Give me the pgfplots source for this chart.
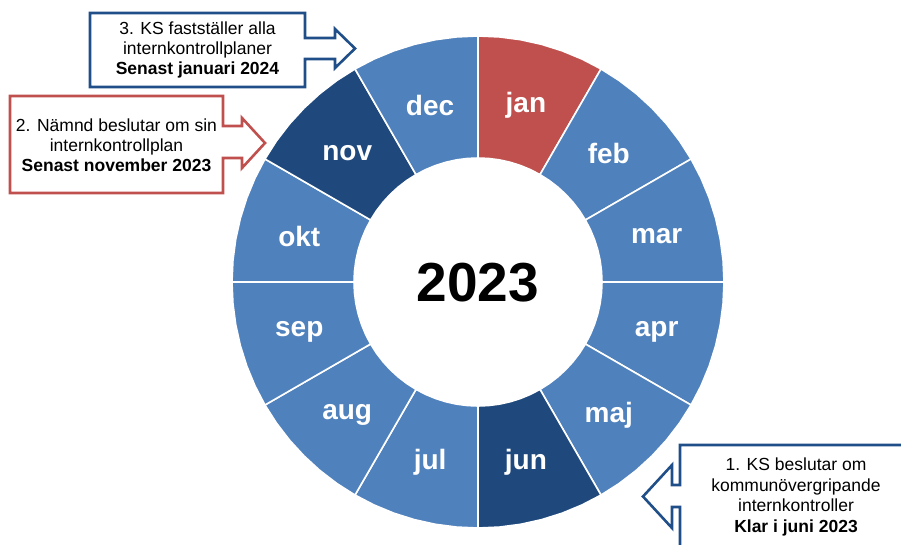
\documentclass[border=0pt]{standalone}
\usepackage{pgfplots}
\pgfplotsset{compat=1.18}
\usepgfplotslibrary{polar}
\usepackage{fontspec}
\setmainfont{Liberation Sans}
\definecolor{segblue}{HTML}{4F81BD}
\definecolor{segnavy}{HTML}{1F497D}
\definecolor{segred}{HTML}{C0504D}
\definecolor{boxblue}{HTML}{1F4E88}
\tikzset{month/.style={font=\fontsize{28}{30}\selectfont\bfseries, text=white, yshift=-2pt}}
\begin{document}
\begin{tikzpicture}
\path[use as bounding box] (0pt,0pt) rectangle (901pt,544pt);
\begin{polaraxis}[
  at={(478pt,262pt)}, anchor=center,
  scale only axis, width=492pt, height=492pt,
  xmin=0, xmax=360, ymin=0, ymax=246,
  hide axis, clip=false,
  every axis plot/.append style={draw=white, line width=1.6pt, line join=round},
]
% jan
\addplot[fill=segred] coordinates {(90,246)(85,246)(80,246)(75,246)(70,246)(65,246)(60,246)(60,124)(65,124)(70,124)(75,124)(80,124)(85,124)(90,124)} -- cycle;
% feb
\addplot[fill=segblue] coordinates {(60,246)(55,246)(50,246)(45,246)(40,246)(35,246)(30,246)(30,124)(35,124)(40,124)(45,124)(50,124)(55,124)(60,124)} -- cycle;
% mar
\addplot[fill=segblue] coordinates {(30,246)(25,246)(20,246)(15,246)(10,246)(5,246)(0,246)(0,124)(5,124)(10,124)(15,124)(20,124)(25,124)(30,124)} -- cycle;
% apr
\addplot[fill=segblue] coordinates {(0,246)(-5,246)(-10,246)(-15,246)(-20,246)(-25,246)(-30,246)(-30,124)(-25,124)(-20,124)(-15,124)(-10,124)(-5,124)(0,124)} -- cycle;
% maj
\addplot[fill=segblue] coordinates {(-30,246)(-35,246)(-40,246)(-45,246)(-50,246)(-55,246)(-60,246)(-60,124)(-55,124)(-50,124)(-45,124)(-40,124)(-35,124)(-30,124)} -- cycle;
% jun
\addplot[fill=segnavy] coordinates {(-60,246)(-65,246)(-70,246)(-75,246)(-80,246)(-85,246)(-90,246)(-90,124)(-85,124)(-80,124)(-75,124)(-70,124)(-65,124)(-60,124)} -- cycle;
% jul
\addplot[fill=segblue] coordinates {(-90,246)(-95,246)(-100,246)(-105,246)(-110,246)(-115,246)(-120,246)(-120,124)(-115,124)(-110,124)(-105,124)(-100,124)(-95,124)(-90,124)} -- cycle;
% aug
\addplot[fill=segblue] coordinates {(-120,246)(-125,246)(-130,246)(-135,246)(-140,246)(-145,246)(-150,246)(-150,124)(-145,124)(-140,124)(-135,124)(-130,124)(-125,124)(-120,124)} -- cycle;
% sep
\addplot[fill=segblue] coordinates {(-150,246)(-155,246)(-160,246)(-165,246)(-170,246)(-175,246)(-180,246)(-180,124)(-175,124)(-170,124)(-165,124)(-160,124)(-155,124)(-150,124)} -- cycle;
% okt
\addplot[fill=segblue] coordinates {(180,246)(175,246)(170,246)(165,246)(160,246)(155,246)(150,246)(150,124)(155,124)(160,124)(165,124)(170,124)(175,124)(180,124)} -- cycle;
% nov
\addplot[fill=segnavy] coordinates {(150,246)(145,246)(140,246)(135,246)(130,246)(125,246)(120,246)(120,124)(125,124)(130,124)(135,124)(140,124)(145,124)(150,124)} -- cycle;
% dec
\addplot[fill=segblue] coordinates {(120,246)(115,246)(110,246)(105,246)(100,246)(95,246)(90,246)(90,124)(95,124)(100,124)(105,124)(110,124)(115,124)(120,124)} -- cycle;
\node[month] at (axis cs:75,185) {jan};
\node[month] at (axis cs:45,185) {feb};
\node[month] at (axis cs:15,185) {mar};
\node[month] at (axis cs:-15,185) {apr};
\node[month] at (axis cs:-45,185) {maj};
\node[month] at (axis cs:-75,185) {jun};
\node[month] at (axis cs:-105,185) {jul};
\node[month] at (axis cs:-135,185) {aug};
\node[month] at (axis cs:-165,185) {sep};
\node[month] at (axis cs:165,185) {okt};
\node[month] at (axis cs:135,185) {nov};
\node[month] at (axis cs:105,185) {dec};
\node[font=\fontsize{55}{60}\selectfont\bfseries, yshift=-1pt] at (axis cs:0,0) {2023};
\end{polaraxis}
\begin{scope}[x=1pt,y=-1pt,yshift=544pt, line width=2.6pt, line join=miter]
  % box 3
  \draw[boxblue] (90,13) -- (305,13) -- (305,38) -- (335,38) -- (335,29) -- (355,48.5) -- (335,68) -- (335,59) -- (305,59) -- (305,87) -- (90,87) -- cycle;
  \node[align=center, font=\fontsize{17.5}{20}\selectfont] at (197.5,50) {3. KS fastställer alla\\internkontrollplaner\\\textbf{Senast januari 2024}};
  % box 2
  \draw[segred] (10,96) -- (223,96) -- (223,126) -- (242,126) -- (242,118) -- (265,143) -- (242,168) -- (242,158) -- (223,158) -- (223,193) -- (10,193) -- cycle;
  \node[align=center, font=\fontsize{17.5}{20}\selectfont] at (116.5,145) {2. Nämnd beslutar om sin\\internkontrollplan\\\textbf{Senast november 2023}};
  % box 1
  \draw[boxblue] (910,445) -- (680,445) -- (680,485) -- (672,485) -- (672,465) -- (643,496.5) -- (672,528) -- (672,507) -- (680,507) -- (680,555);
  \node[align=center, font=\fontsize{17.5}{20.5}\selectfont] at (796,497) {1. KS beslutar om\\kommunövergripande\\internkontroller\\\textbf{Klar i juni 2023}};
\end{scope}
\end{tikzpicture}
\end{document}
